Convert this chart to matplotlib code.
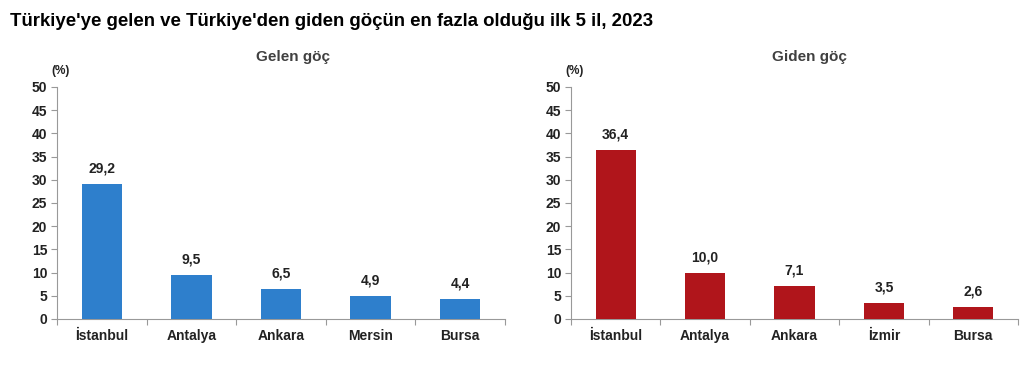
import matplotlib
matplotlib.use("Agg")
import matplotlib.pyplot as plt
import numpy as np

plt.rcParams['font.family'] = ['Liberation Sans', 'DejaVu Sans']

title = "Türkiye'ye gelen ve Türkiye'den giden göçün en fazla olduğu ilk 5 il, 2023"
gelen_cities = ["İstanbul", "Antalya", "Ankara", "Mersin", "Bursa"]
gelen_values = [29.2, 9.5, 6.5, 4.9, 4.4]
giden_cities = ["İstanbul", "Antalya", "Ankara", "İzmir", "Bursa"]
giden_values = [36.4, 10.0, 7.1, 3.5, 2.6]
y_ticks = [0, 5, 10, 15, 20, 25, 30, 35, 40, 45, 50]

W, H = 1024, 382
fig = plt.figure(figsize=(W / 100, H / 100), dpi=100)
fig.patch.set_facecolor('white')

fig.text(10 / W, 1 - 22 / H, title, fontsize=13.4, fontweight='bold',
         ha='left', va='center', color='black')


def panel(left_px, right_px, cities, values, color, subtitle, sub_x):
    ax = fig.add_axes([left_px / W, (H - 319) / H, (right_px - left_px) / W, (319 - 87) / H])
    x = np.arange(len(cities))
    ax.bar(x, values, width=0.45, color=color, zorder=3)
    ax.set_xlim(-0.5, len(cities) - 0.5)
    ax.set_ylim(0, 50)
    ax.set_yticks(y_ticks)
    ax.set_yticklabels([str(t) for t in y_ticks], fontsize=10, fontweight='bold', color='#222222')
    ax.set_xticks(x)
    ax.set_xticklabels(cities, fontsize=10, fontweight='bold', color='#222222')
    ax.tick_params(axis='x', which='major', length=0, pad=7)
    ax.set_xticks(np.arange(-0.5, len(cities)), minor=True)
    ax.tick_params(axis='x', which='minor', length=4, color='#999999', width=0.8)
    ax.tick_params(axis='y', length=4, color='#999999', width=0.8, pad=3)
    for s in ['top', 'right']:
        ax.spines[s].set_visible(False)
    for s in ['left', 'bottom']:
        ax.spines[s].set_color('#999999')
        ax.spines[s].set_linewidth(0.8)
    for xi, v in zip(x, values):
        ax.annotate(f"{v:.1f}".replace('.', ','), (xi, v), xytext=(0, 6),
                    textcoords='offset points', ha='center', va='bottom',
                    fontsize=10, fontweight='bold', color='#222222')
    fig.text(sub_x / W, 1 - 57 / H, subtitle, fontsize=11, fontweight='bold',
             ha='center', va='center', color='#404040')
    fig.text((left_px + 4) / W, 1 - 71 / H, "(%)", fontsize=8.5, fontweight='bold',
             ha='center', va='center', color='#222222')
    return ax


panel(57, 505, gelen_cities, gelen_values, '#2E7FCC', "Gelen göç", 293)
panel(571, 1018, giden_cities, giden_values, '#B0151B', "Giden göç", 809)

fig.savefig("out.png", dpi=100, facecolor='white')
